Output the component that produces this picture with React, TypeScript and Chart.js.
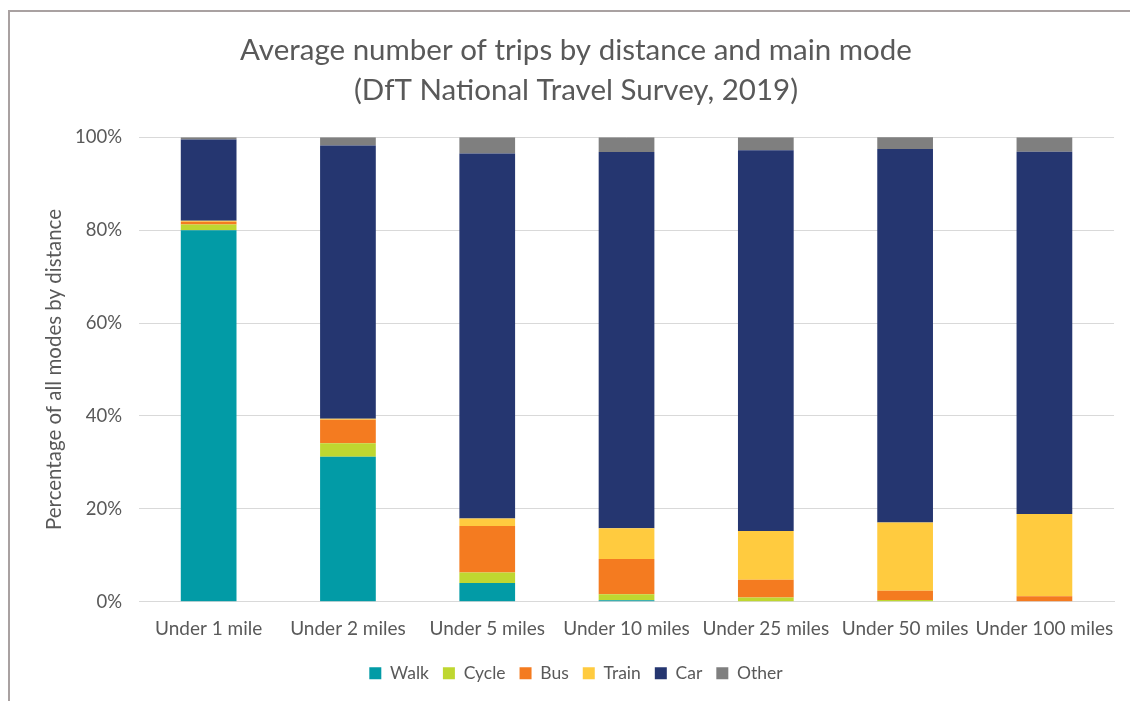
import React, { useEffect, useRef } from "react";
import { Chart, registerables } from "chart.js";

Chart.register(...registerables);

const categories = [
  "Under 1 mile",
  "Under 2 miles",
  "Under 5 miles",
  "Under 10 miles",
  "Under 25 miles",
  "Under 50 miles",
  "Under 100 miles",
];
const walk = [80.0, 31.2, 4.0, 0.3, 0.0, 0.0, 0.0];
const cycle = [1.2, 2.9, 2.3, 1.3, 0.9, 0.35, 0.1];
const bus = [0.6, 5.1, 10.0, 7.6, 3.8, 2.0, 1.1];
const train = [0.2, 0.2, 1.6, 6.6, 10.5, 14.7, 17.7];
const car = [17.5, 58.8, 78.6, 81.0, 82.0, 80.4, 78.0];
const other = [0.5, 1.8, 3.5, 3.2, 2.8, 2.6, 3.1];
const yTicks = [0, 20, 40, 60, 80, 100];
const titleLines = [
  "Average number of trips by distance and main mode",
  "(DfT National Travel Survey, 2019)",
];
const yAxisTitle = "Percentage of all modes by distance";

const FONT = "Lato, 'Noto Sans', sans-serif";
const TEXT = "#595959";

export default function App() {
  const ref = useRef<HTMLCanvasElement | null>(null);
  useEffect(() => {
    document.body.style.margin = "0";
    const ctx = ref.current;
    if (!ctx) return;
    const chart = new Chart(ctx, {
      type: "bar",
      data: {
        labels: categories,
        datasets: [
          { label: "Walk", data: walk, backgroundColor: "#029ba6" },
          { label: "Cycle", data: cycle, backgroundColor: "#bfd730" },
          { label: "Bus", data: bus, backgroundColor: "#f47b20" },
          { label: "Train", data: train, backgroundColor: "#ffcb3f" },
          { label: "Car", data: car, backgroundColor: "#253670" },
          { label: "Other", data: other, backgroundColor: "#7f7f7f" },
        ],
      },
      options: {
        responsive: false,
        animation: false,
        layout: { padding: { left: 33, right: 11, top: 0, bottom: 9 } },
        datasets: {
          bar: { categoryPercentage: 1.0, barPercentage: 0.4, borderWidth: 0 },
        },
        plugins: {
          title: {
            display: true,
            text: titleLines,
            color: TEXT,
            font: { family: FONT, size: 29.5, weight: "normal", lineHeight: 1.36 },
            padding: { top: 30, bottom: 27 },
          },
          legend: {
            position: "bottom",
            labels: {
              color: TEXT,
              font: { family: FONT, size: 17.5 },
              boxWidth: 12,
              boxHeight: 12,
              padding: 14,
            },
          },
          tooltip: { enabled: false },
        },
        scales: {
          x: {
            stacked: true,
            grid: { display: false, drawTicks: false },
            border: { display: true, color: "#d9d9d9", width: 1 },
            ticks: {
              color: TEXT,
              font: { family: FONT, size: 19 },
              padding: 16,
              maxRotation: 0,
              autoSkip: false,
            },
            afterFit: (s: any) => {
              s.height = s.height - 6;
            },
          },
          y: {
            stacked: true,
            min: 0,
            max: 100,
            afterBuildTicks: (s: any) => {
              s.ticks = yTicks.map((v) => ({ value: v }));
            },
            afterFit: (s: any) => {
              s.width = 106;
            },
            grid: { color: "#d9d9d9", drawTicks: false },
            border: { display: false },
            ticks: {
              color: TEXT,
              font: { family: FONT, size: 18.5 },
              padding: 17,
              callback: (v: any) => v + "%",
            },
            title: {
              display: true,
              text: yAxisTitle,
              color: TEXT,
              font: { family: FONT, size: 20.5 },
              padding: { top: 9, bottom: 0 },
            },
          },
        },
      },
    });
    return () => chart.destroy();
  }, []);
  return (
    <div style={{ position: "relative", width: 1130, height: 701 }}>
      <canvas ref={ref} width={1130} height={701} />
      <div
        style={{
          position: "absolute",
          left: 8,
          top: 10,
          right: 0,
          bottom: 0,
          borderLeft: "2px solid #a9a1a1",
          borderTop: "2px solid #a9a1a1",
          pointerEvents: "none",
        }}
      />
    </div>
  );
}
